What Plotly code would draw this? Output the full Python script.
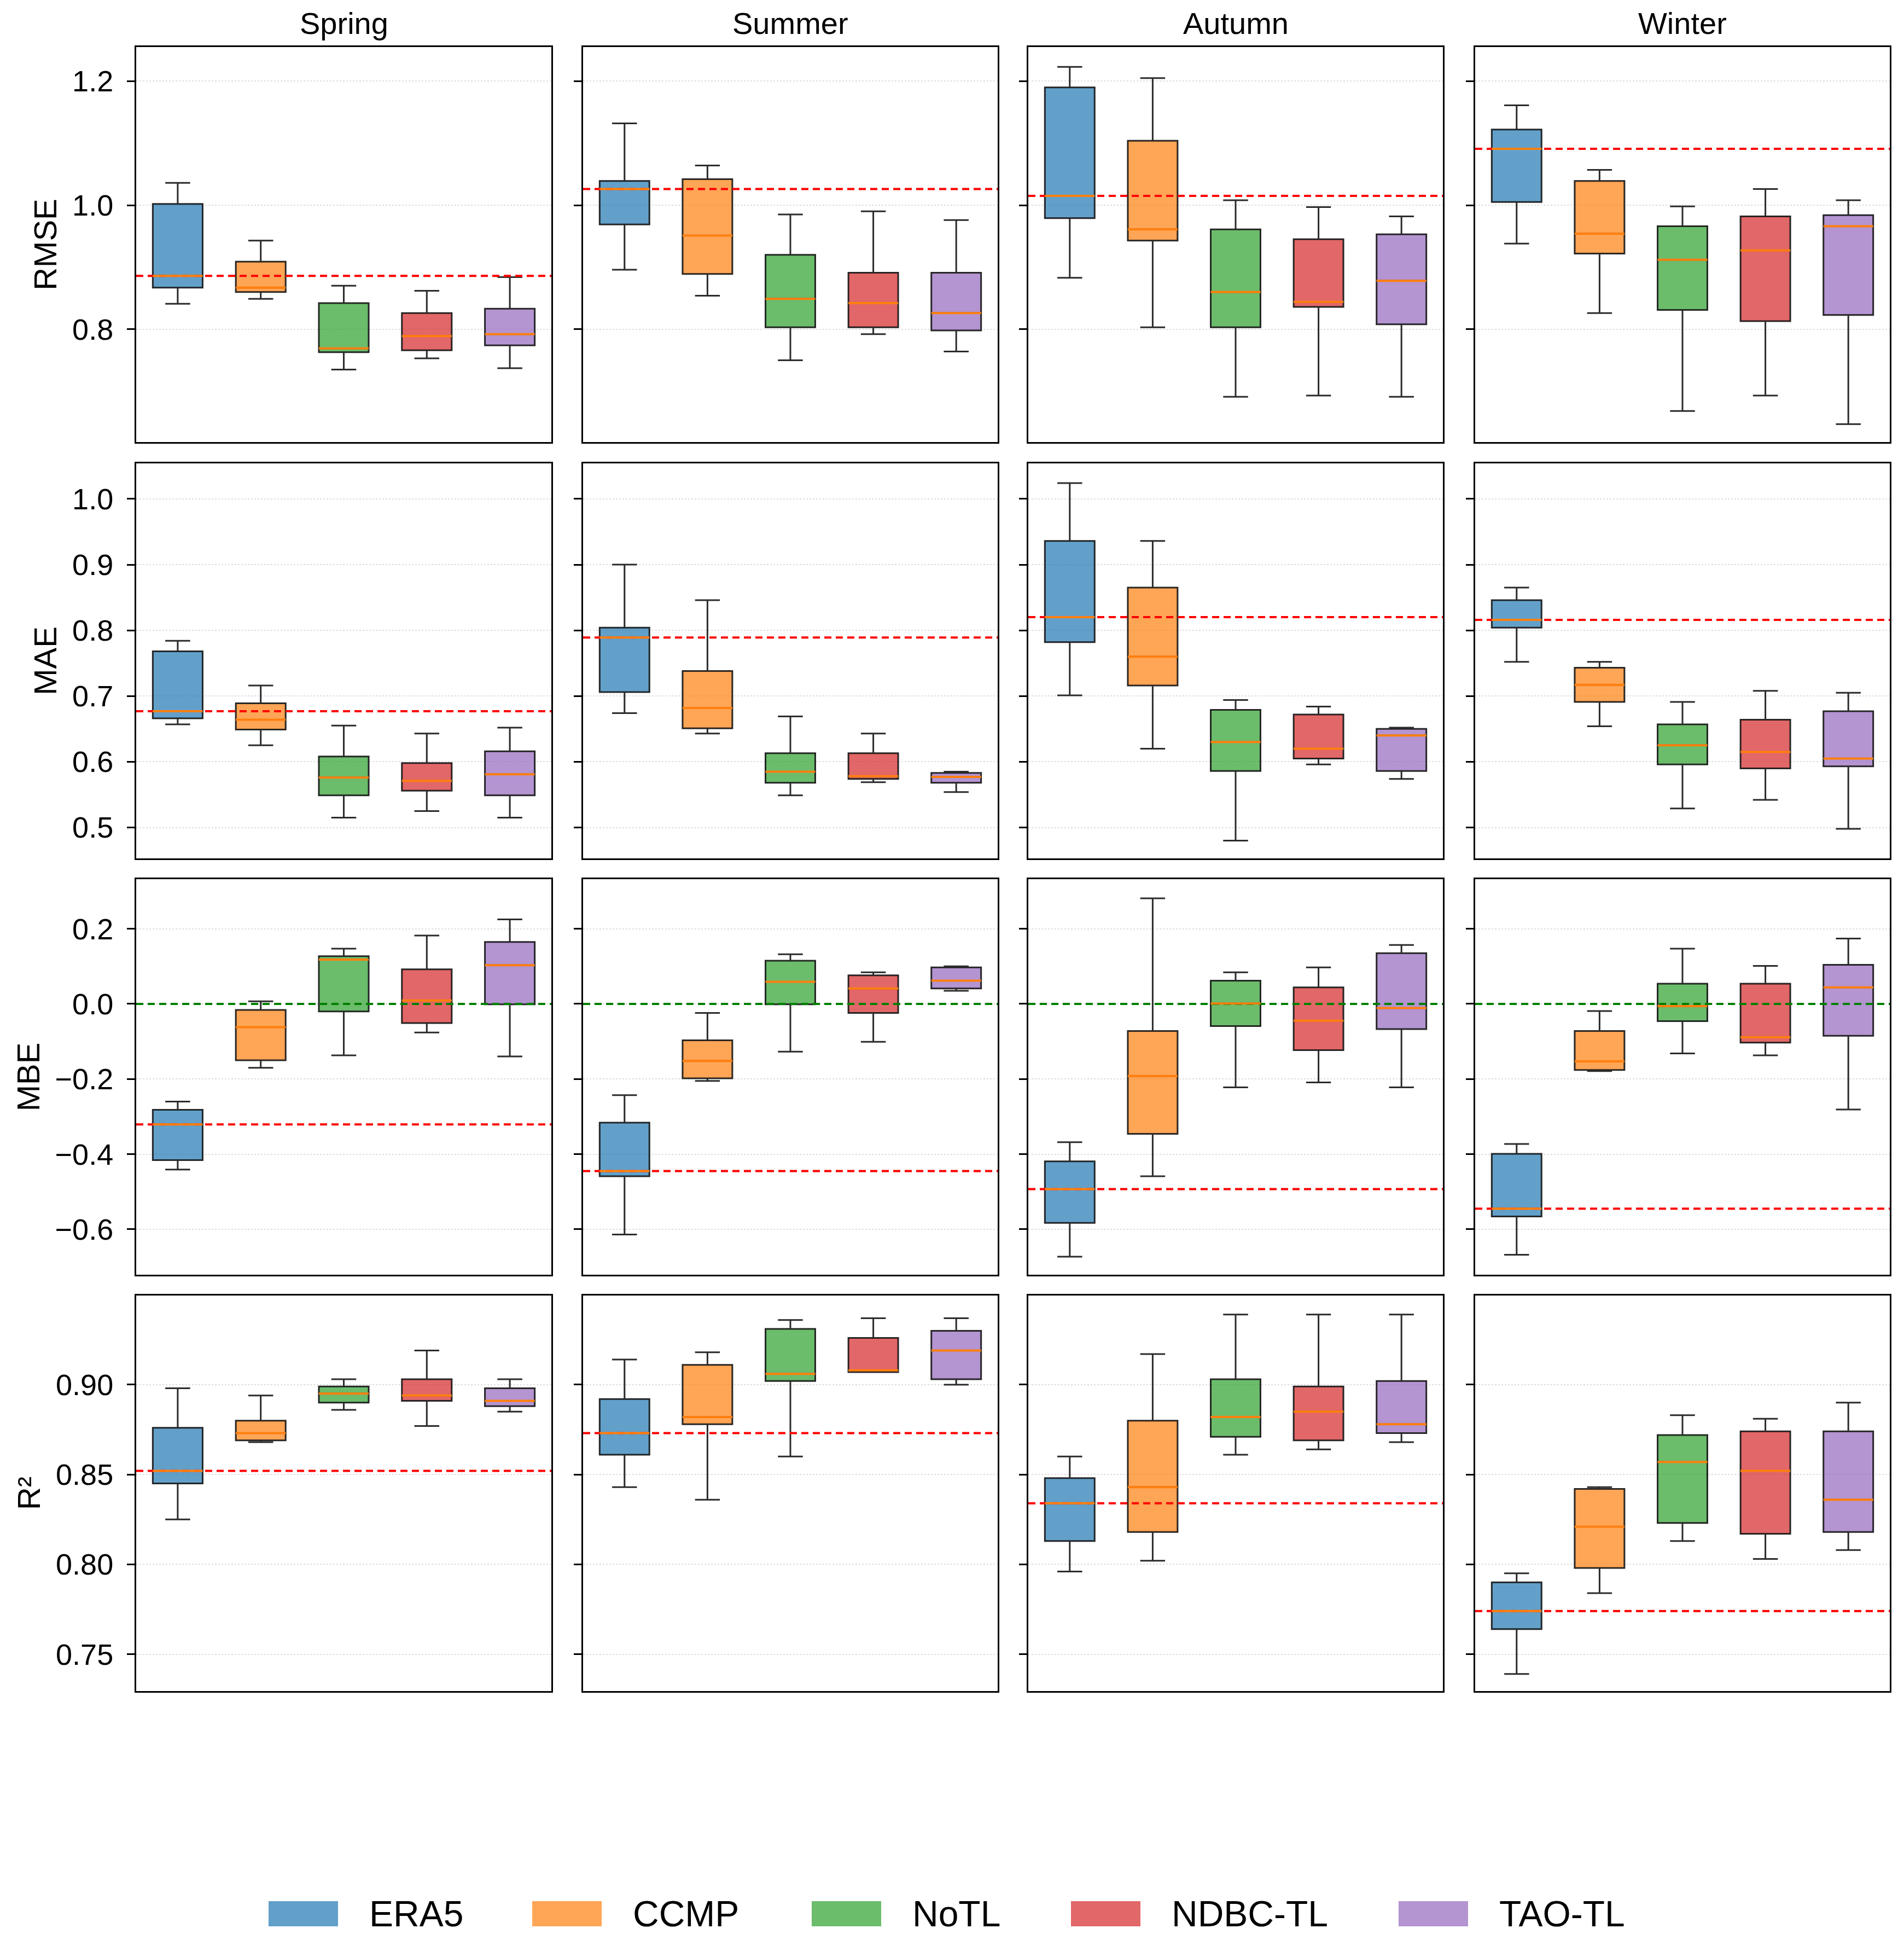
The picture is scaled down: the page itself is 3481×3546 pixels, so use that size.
import plotly.graph_objects as go
from plotly.subplots import make_subplots

seasons = ["Spring", "Summer", "Autumn", "Winter"]
models = ["ERA5", "CCMP", "NoTL", "NDBC-TL", "TAO-TL"]
metrics = ["RMSE", "MAE", "MBE", "R²"]
colors = ["31,119,180", "255,127,14", "44,160,44", "214,39,40", "148,103,189"]

# box statistics per season (rows) and model (columns)
rmse_lo = [[0.841, 0.849, 0.735, 0.753, 0.737],
           [0.896, 0.854, 0.750, 0.792, 0.764],
           [0.883, 0.803, 0.691, 0.693, 0.691],
           [0.938, 0.826, 0.668, 0.693, 0.647]]
rmse_q1 = [[0.867, 0.860, 0.763, 0.766, 0.774],
           [0.969, 0.889, 0.803, 0.803, 0.798],
           [0.979, 0.943, 0.803, 0.836, 0.808],
           [1.005, 0.922, 0.831, 0.813, 0.823]]
rmse_med = [[0.886, 0.867, 0.769, 0.789, 0.792],
            [1.026, 0.951, 0.849, 0.842, 0.826],
            [1.015, 0.961, 0.860, 0.844, 0.878],
            [1.091, 0.954, 0.912, 0.927, 0.966]]
rmse_q3 = [[1.002, 0.909, 0.842, 0.826, 0.833],
           [1.039, 1.042, 0.920, 0.891, 0.891],
           [1.190, 1.104, 0.961, 0.945, 0.953],
           [1.122, 1.039, 0.966, 0.982, 0.984]]
rmse_hi = [[1.036, 0.943, 0.870, 0.862, 0.884],
           [1.132, 1.064, 0.985, 0.990, 0.976],
           [1.223, 1.205, 1.008, 0.997, 0.982],
           [1.161, 1.057, 0.998, 1.026, 1.008]]

mae_lo = [[0.657, 0.625, 0.515, 0.525, 0.515],
          [0.674, 0.643, 0.549, 0.569, 0.554],
          [0.701, 0.620, 0.480, 0.596, 0.574],
          [0.752, 0.654, 0.529, 0.542, 0.498]]
mae_q1 = [[0.666, 0.649, 0.549, 0.556, 0.549],
          [0.706, 0.651, 0.568, 0.574, 0.568],
          [0.782, 0.716, 0.586, 0.605, 0.586],
          [0.804, 0.691, 0.596, 0.590, 0.593]]
mae_med = [[0.677, 0.664, 0.576, 0.571, 0.581],
           [0.789, 0.682, 0.585, 0.578, 0.577],
           [0.820, 0.760, 0.630, 0.620, 0.640],
           [0.816, 0.717, 0.625, 0.615, 0.605]]
mae_q3 = [[0.768, 0.689, 0.608, 0.598, 0.616],
          [0.804, 0.738, 0.613, 0.613, 0.583],
          [0.936, 0.865, 0.679, 0.672, 0.650],
          [0.846, 0.743, 0.657, 0.664, 0.677]]
mae_hi = [[0.784, 0.716, 0.655, 0.643, 0.652],
          [0.900, 0.846, 0.669, 0.643, 0.585],
          [1.024, 0.936, 0.694, 0.684, 0.652],
          [0.865, 0.752, 0.691, 0.708, 0.705]]

mbe_lo = [[-0.441, -0.170, -0.137, -0.076, -0.140],
          [-0.614, -0.205, -0.127, -0.101, 0.035],
          [-0.673, -0.459, -0.222, -0.209, -0.222],
          [-0.668, -0.179, -0.132, -0.137, -0.281]]
mbe_q1 = [[-0.416, -0.150, -0.020, -0.051, -0.001],
          [-0.459, -0.198, -0.001, -0.024, 0.041],
          [-0.583, -0.346, -0.059, -0.123, -0.067],
          [-0.566, -0.176, -0.046, -0.103, -0.085]]
mbe_med = [[-0.321, -0.062, 0.118, 0.009, 0.103],
           [-0.445, -0.152, 0.059, 0.041, 0.062],
           [-0.493, -0.192, 0.001, -0.045, -0.011],
           [-0.545, -0.153, -0.006, -0.089, 0.044]]
mbe_q3 = [[-0.282, -0.016, 0.127, 0.092, 0.165],
          [-0.316, -0.097, 0.115, 0.076, 0.097],
          [-0.419, -0.072, 0.062, 0.044, 0.135],
          [-0.399, -0.072, 0.054, 0.054, 0.104]]
mbe_hi = [[-0.260, 0.007, 0.147, 0.182, 0.225],
          [-0.243, -0.024, 0.132, 0.084, 0.100],
          [-0.368, 0.281, 0.084, 0.097, 0.157],
          [-0.373, -0.019, 0.147, 0.101, 0.174]]

r2_lo = [[0.825, 0.868, 0.886, 0.877, 0.885],
         [0.843, 0.836, 0.860, 0.907, 0.900],
         [0.796, 0.802, 0.861, 0.864, 0.868],
         [0.739, 0.784, 0.813, 0.803, 0.808]]
r2_q1 = [[0.845, 0.869, 0.890, 0.891, 0.888],
         [0.861, 0.878, 0.902, 0.907, 0.903],
         [0.813, 0.818, 0.871, 0.869, 0.873],
         [0.764, 0.798, 0.823, 0.817, 0.818]]
r2_med = [[0.852, 0.873, 0.895, 0.894, 0.891],
          [0.873, 0.882, 0.906, 0.908, 0.919],
          [0.834, 0.843, 0.882, 0.885, 0.878],
          [0.774, 0.821, 0.857, 0.852, 0.836]]
r2_q3 = [[0.876, 0.880, 0.899, 0.903, 0.898],
         [0.892, 0.911, 0.931, 0.926, 0.930],
         [0.848, 0.880, 0.903, 0.899, 0.902],
         [0.790, 0.842, 0.872, 0.874, 0.874]]
r2_hi = [[0.898, 0.894, 0.903, 0.919, 0.903],
         [0.914, 0.918, 0.936, 0.937, 0.937],
         [0.860, 0.917, 0.939, 0.939, 0.939],
         [0.795, 0.843, 0.883, 0.881, 0.890]]

stats = [
    (rmse_lo, rmse_q1, rmse_med, rmse_q3, rmse_hi),
    (mae_lo, mae_q1, mae_med, mae_q3, mae_hi),
    (mbe_lo, mbe_q1, mbe_med, mbe_q3, mbe_hi),
    (r2_lo, r2_q1, r2_med, r2_q3, r2_hi),
]

y_ranges = [[0.618, 1.255], [0.453, 1.054], [-0.721, 0.332], [0.7295, 0.9496]]
y_dticks = [0.2, 0.1, 0.2, 0.05]
y_formats = [".1f", ".1f", ".1f", ".2f"]

# the page body adds an 8px offset, so lay the figure out in a slightly smaller box
OFF = 8
W, H = 3481 - OFF, 3546 - OFF
FONT = "Liberation Sans, Arial, sans-serif"
x_dom = [(249, 1008), (1066, 1824), (1880, 2638), (2697, 3455)]
y_dom = [(86, 808), (847, 1569), (1607, 2330), (2368, 3091)]
BW = 0.6


def px(v, size):
    return (v - OFF) / size


fig = make_subplots(rows=4, cols=4, shared_yaxes=True)

for r in range(4):
    lo, q1, med, q3, hi = stats[r]
    for c in range(4):
        pos = list(range(1, 6))
        for k in range(5):
            fig.add_trace(go.Box(
                x=[pos[k]], lowerfence=[lo[c][k]], q1=[q1[c][k]], median=[med[c][k]],
                q3=[q3[c][k]], upperfence=[hi[c][k]], width=BW, whiskerwidth=0.5,
                fillcolor="rgba(%s,0.7)" % colors[k],
                line=dict(color="rgba(20,20,20,0.9)", width=3),
                boxpoints=False, showlegend=False, hoverinfo="skip"),
                row=r + 1, col=c + 1)
        # reference line at the ERA5 median
        fig.add_trace(go.Scatter(
            x=[0.5, 5.5], y=[med[c][0]] * 2, mode="lines",
            line=dict(color="red", width=4, dash="13px,8px"),
            showlegend=False, hoverinfo="skip"), row=r + 1, col=c + 1)
        if metrics[r] == "MBE":
            fig.add_trace(go.Scatter(
                x=[0.5, 5.5], y=[0, 0], mode="lines",
                line=dict(color="green", width=4, dash="13px,8px"),
                showlegend=False, hoverinfo="skip"), row=r + 1, col=c + 1)
        mx, my = [], []
        for k in range(5):
            mx += [pos[k] - BW / 2, pos[k] + BW / 2, None]
            my += [med[c][k], med[c][k], None]
        fig.add_trace(go.Scatter(
            x=mx, y=my, mode="lines", line=dict(color="#ff7f0e", width=4),
            showlegend=False, hoverinfo="skip"), row=r + 1, col=c + 1)

for r in range(4):
    for c in range(4):
        i = r * 4 + c + 1
        sfx = "" if i == 1 else str(i)
        fig.layout["xaxis" + sfx].update(
            domain=[px(x_dom[c][0], W), px(x_dom[c][1], W)], range=[0.5, 5.5],
            showticklabels=False, ticks="", showgrid=False, zeroline=False,
            showline=True, mirror=True, linecolor="black", linewidth=3)
        fig.layout["yaxis" + sfx].update(
            domain=[1 - px(y_dom[r][1], H), 1 - px(y_dom[r][0], H)], range=y_ranges[r],
            dtick=y_dticks[r], tick0=0, tickformat=y_formats[r],
            ticks="outside", ticklen=14, tickwidth=3, tickcolor="black",
            ticklabelstandoff=14, showticklabels=(c == 0),
            tickfont=dict(size=54, color="black", family=FONT),
            showgrid=True, gridcolor="rgba(0,0,0,0.13)", gridwidth=2, griddash="dot",
            zeroline=False, showline=True, mirror=True, linecolor="black", linewidth=3)
        if c == 0:
            fig.layout["yaxis" + sfx].title = dict(
                text=metrics[r], standoff=10, font=dict(size=58, color="black", family=FONT))

annotations = []
for c, s in enumerate(seasons):
    annotations.append(dict(
        text=s, x=px((x_dom[c][0] + x_dom[c][1]) / 2, W), y=1 - px(42, H),
        xref="paper", yref="paper", xanchor="center", yanchor="middle",
        showarrow=False, font=dict(size=56, color="black", family=FONT)))

# legend drawn by hand with wide colour patches
swatch_x = [491, 973, 1484, 1958, 2557]
shapes = []
for k, m in enumerate(models):
    shapes.append(dict(
        type="rect", xref="paper", yref="paper",
        x0=px(swatch_x[k], W), x1=px(swatch_x[k] + 127, W),
        y0=1 - px(3521, H), y1=1 - px(3475, H),
        fillcolor="rgba(%s,0.7)" % colors[k], line=dict(width=0)))
    annotations.append(dict(
        text=m, x=px(swatch_x[k] + 182, W), y=1 - px(3498, H),
        xref="paper", yref="paper", xanchor="left", yanchor="middle",
        showarrow=False, font=dict(size=66, color="black", family=FONT)))

fig.update_layout(
    width=W, height=H, margin=dict(l=0, r=0, t=0, b=0),
    paper_bgcolor="white", plot_bgcolor="white",
    font=dict(family=FONT, color="black"),
    showlegend=False, annotations=annotations, shapes=shapes)

fig.write_html("out.html")
